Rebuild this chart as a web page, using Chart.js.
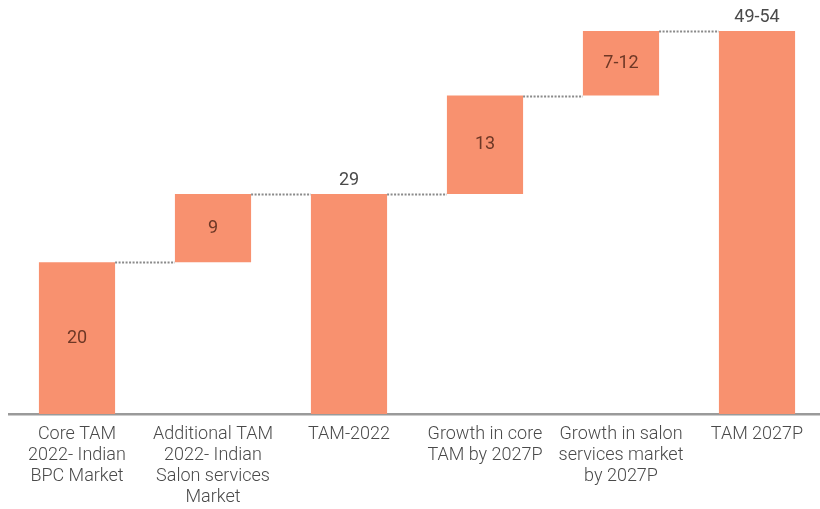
<!DOCTYPE html>
<html lang="en">
<head>
<meta charset="UTF-8">
<title>TAM waterfall</title>
<script src="https://cdn.jsdelivr.net/npm/chart.js"></script>
<style>
  html, body { margin: 0; padding: 0; background: #fff; overflow: hidden; }
  #wrap { width: 820px; height: 509px; overflow: hidden; }
</style>
</head>
<body>
<div id="wrap">
  <canvas id="tamChart" width="830" height="509"></canvas>
</div>
<script>
// categories (multi-line tick labels)
const categories = [
  ["Core TAM", "2022- Indian", "BPC Market"],
  ["Additional TAM", "2022- Indian", "Salon services", "Market"],
  ["TAM-2022"],
  ["Growth in core", "TAM by 2027P"],
  ["Growth in salon", "services market", "by 2027P"],
  ["TAM 2027P"]
];
// floating bar bottoms and tops (USD bn)
const barBase = [0, 20, 0, 29, 42, 0];
const barTop = [20, 29, 29, 42, 50.5, 50.5];
// printed values
const valueLabels = ["20", "9", "29", "13", "7-12", "49-54"];
// totals get their label above the bar, steps get it inside
const isTotal = [false, false, true, false, false, true];

const barColor = "#F8916F";

const waterfallExtras = {
  id: "waterfallExtras",
  afterDatasetsDraw(chart) {
    const ctx = chart.ctx;
    const meta = chart.getDatasetMeta(0);
    const y = chart.scales.y;

    // dotted connectors between neighbouring bars
    ctx.save();
    ctx.strokeStyle = "#8a8a8a";
    ctx.lineWidth = 2;
    ctx.setLineDash([2, 1.5]);
    for (let i = 0; i < meta.data.length - 1; i++) {
      const a = meta.data[i], b = meta.data[i + 1];
      const py = Math.round(y.getPixelForValue(barTop[i])) + 0.5;
      ctx.beginPath();
      ctx.moveTo(a.x + a.width / 2, py);
      ctx.lineTo(b.x - b.width / 2, py);
      ctx.stroke();
    }
    ctx.restore();

    // value labels
    ctx.save();
    ctx.textAlign = "center";
    ctx.textBaseline = "middle";
    ctx.font = "18px Roboto, 'Liberation Sans', sans-serif";
    meta.data.forEach((bar, i) => {
      const top = y.getPixelForValue(barTop[i]);
      const bottom = y.getPixelForValue(barBase[i]);
      if (isTotal[i]) {
        ctx.fillStyle = "#4a4a4a";
        ctx.fillText(valueLabels[i], bar.x, top - 14);
      } else {
        ctx.fillStyle = "#6e3826";
        ctx.fillText(valueLabels[i], bar.x, (top + bottom) / 2);
      }
    });
    ctx.restore();
  }
};

new Chart(document.getElementById("tamChart"), {
  type: "bar",
  data: {
    labels: categories,
    datasets: [{
      data: barBase.map((b, i) => [b, barTop[i]]),
      backgroundColor: barColor,
      borderWidth: 0,
      barPercentage: 0.56,
      categoryPercentage: 1
    }]
  },
  options: {
    responsive: false,
    animation: false,
    layout: { padding: { left: 9, right: 5, top: 0, bottom: 0 } },
    plugins: {
      legend: { display: false },
      tooltip: { enabled: false }
    },
    scales: {
      x: {
        grid: { display: false, drawTicks: false },
        border: { display: true, color: "#9a9a9a", width: 2.5 },
        ticks: {
          color: "#4a4a4a",
          padding: 10,
          maxRotation: 0,
          autoSkip: false,
          font: { family: "Roboto, 'Liberation Sans', sans-serif", size: 18, weight: 300, lineHeight: 1.17 }
        },
        afterFit(scale) { scale.height = 95; }
      },
      y: {
        display: false,
        min: 0,
        max: 54.6
      }
    }
  },
  plugins: [waterfallExtras]
});
</script>
</body>
</html>
